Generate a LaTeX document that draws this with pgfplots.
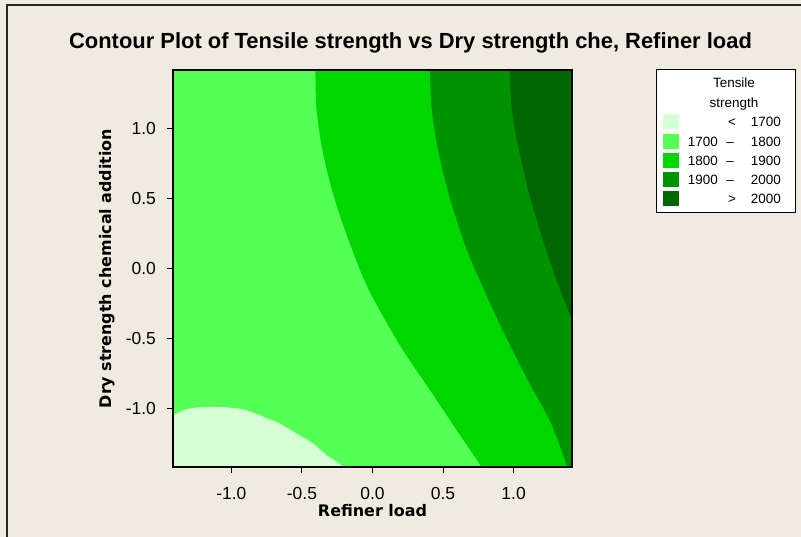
\documentclass[border=0pt]{standalone}
\usepackage{pgfplots}
\pgfplotsset{compat=1.18}
\usepackage{fontspec}
\setmainfont{Liberation Sans}
\newfontfamily\dvs{DejaVu Sans}
\definecolor{bgc}{RGB}{240,235,224}
\definecolor{ca}{RGB}{213,255,213}
\definecolor{cb}{RGB}{85,255,85}
\definecolor{cc}{RGB}{0,215,0}
\definecolor{cd}{RGB}{0,147,0}
\definecolor{ce}{RGB}{0,102,0}
\begin{document}
\begin{tikzpicture}
\useasboundingbox (0,0) rectangle (801bp,537bp);
\fill[bgc] (0,0) rectangle (801bp,537bp);
\draw[line width=1.5bp, black!85] (7bp,0) -- (7bp,532bp) -- (801bp,532bp);
\node[font=\fontsize{22}{25}\selectfont\bfseries] at (410.5bp,494bp) {Contour Plot of Tensile strength vs Dry strength che, Refiner load};
\begin{axis}[
  at={(173bp,70bp)}, anchor=south west,
  width=399bp, height=397bp, scale only axis,
  xmin=-1.414, xmax=1.414, ymin=-1.414, ymax=1.414,
  axis background/.style={fill=cb},
  axis on top,
  axis line style={line width=1.3bp, black},
  xtick={-1,-0.5,0,0.5,1}, ytick={-1,-0.5,0,0.5,1},
  tick align=outside, major tick length=6bp,
  tick style={black, line width=1bp},
  xtick pos=bottom, ytick pos=left,
  /pgf/number format/.cd, fixed, fixed zerofill, precision=1, assume math mode=true,
  /pgfplots/.cd,
  ticklabel style={font=\fontsize{17.5}{20}\selectfont},
  xticklabel style={anchor=center, inner sep=0pt, yshift=-20bp},
  yticklabel style={anchor=east, inner sep=0pt, xshift=-11bp},
  xlabel={Refiner load}, ylabel={Dry strength chemical addition},
  xlabel style={font=\dvs\bfseries\fontsize{16}{19}\selectfont, at={(axis description cs:0.5,-0.1108)}, anchor=center, inner sep=0pt},
  ylabel style={font=\dvs\bfseries\fontsize{16}{19}\selectfont, at={(axis description cs:-0.1654,0.5)}, anchor=center, inner sep=0pt},
]
% regions bounded by contour lines
\addplot[fill=ca, draw=none, smooth] coordinates {(-1.50,-1.08) (-1.414,-1.046) (-1.320,-1.003) (-1.225,-0.989) (-1.130,-0.986) (-1.036,-0.989) (-0.917,-1.003) (-0.799,-1.046) (-0.657,-1.105) (-0.539,-1.176) (-0.420,-1.247) (-0.326,-1.330) (-0.219,-1.406) (-0.210,-1.50)} -- (axis cs:-1.6,-1.6) -- cycle;
\addplot[fill=cc, draw=none, smooth] coordinates {(-0.406,1.50) (-0.403,1.30) (-0.397,1.136) (-0.361,0.875) (-0.302,0.614) (-0.207,0.306) (-0.041,-0.121) (0.195,-0.548) (0.432,-0.903) (0.621,-1.188) (0.768,-1.406) (0.81,-1.50)} -- (axis cs:1.6,-1.6) -- (axis cs:1.6,1.6) -- cycle;
\addplot[fill=cd, draw=none, smooth] coordinates {(0.402,1.50) (0.420,1.136) (0.468,0.828) (0.550,0.496) (0.657,0.164) (0.787,-0.145) (0.929,-0.453) (1.095,-0.785) (1.261,-1.093) (1.379,-1.406) (1.41,-1.50)} -- (axis cs:1.6,-1.6) -- (axis cs:1.6,1.6) -- cycle;
\addplot[fill=ce, draw=none, smooth] coordinates {(0.967,1.50) (0.988,1.136) (1.036,0.851) (1.107,0.543) (1.190,0.259) (1.284,-0.026) (1.419,-0.382) (1.45,-0.47)} -- (axis cs:1.6,-0.5) -- (axis cs:1.6,1.6) -- cycle;
\end{axis}
% legend
\draw[fill=white, draw=black, line width=1bp] (656bp,324bp) rectangle (795bp,467bp);
\begin{scope}[every node/.style={font=\fontsize{13.5}{16}\selectfont, inner sep=0pt}]
\node[anchor=base] at (734bp,449bp) {Tensile};
\node[anchor=base] at (734bp,429bp) {strength};
\foreach \c/\yy in {ca/415, cb/395, cc/376, cd/357, ce/338} {
  \fill[\c] (663bp,\yy bp-7.5bp) rectangle (679bp,\yy bp+7.5bp);
}
\node[anchor=base] at (732bp,410bp) {<};
\node[anchor=base east] at (781bp,410bp) {1700};
\node[anchor=base east] at (718bp,390bp) {1700};
\node[anchor=base] at (730bp,390bp) {–};
\node[anchor=base east] at (781bp,390bp) {1800};
\node[anchor=base east] at (718bp,371bp) {1800};
\node[anchor=base] at (730bp,371bp) {–};
\node[anchor=base east] at (781bp,371bp) {1900};
\node[anchor=base east] at (718bp,352bp) {1900};
\node[anchor=base] at (730bp,352bp) {–};
\node[anchor=base east] at (781bp,352bp) {2000};
\node[anchor=base] at (732bp,333bp) {>};
\node[anchor=base east] at (781bp,333bp) {2000};
\end{scope}
\end{tikzpicture}
\end{document}
